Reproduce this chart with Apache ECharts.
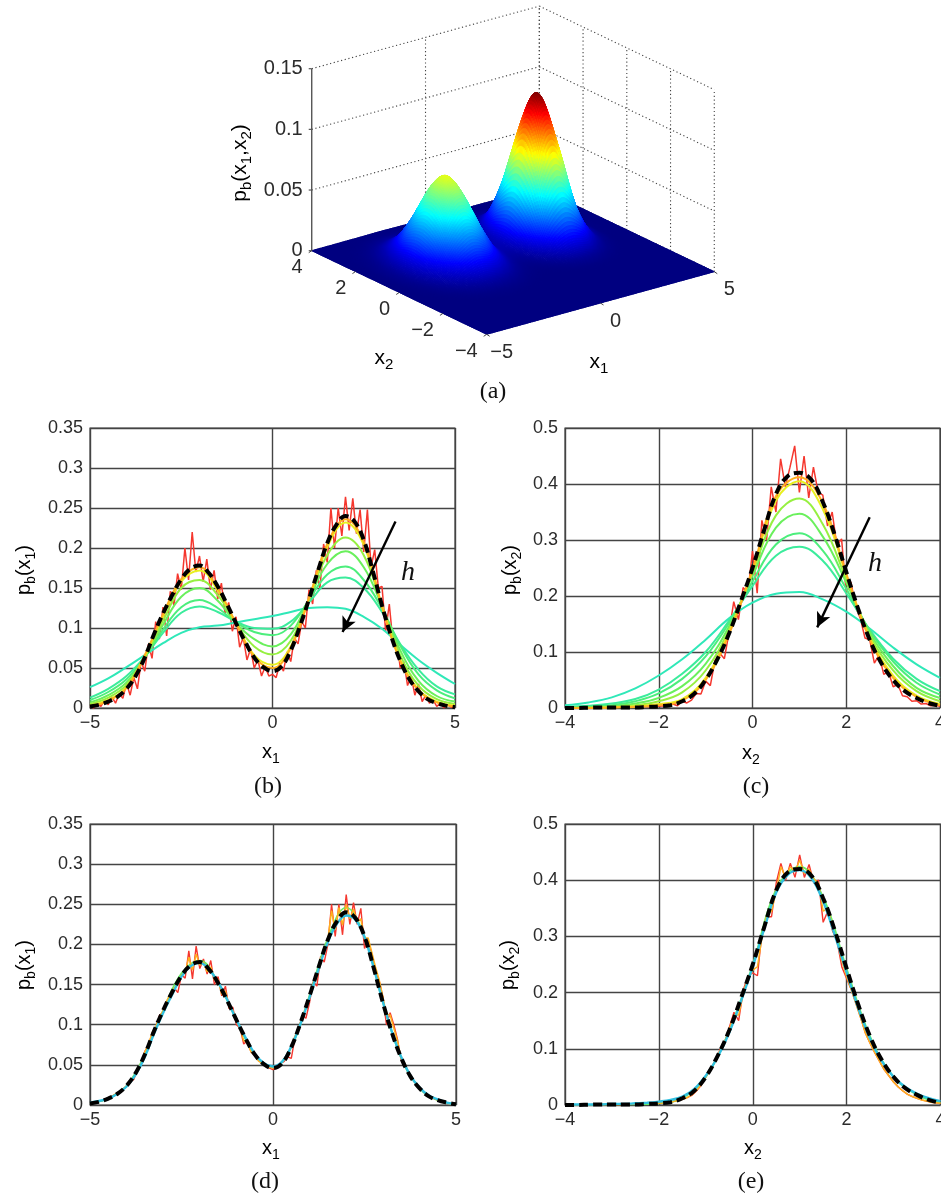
<!DOCTYPE html>
<html><head><meta charset="utf-8">
<style>html,body{margin:0;padding:0;background:#fff}#c{width:941px;height:1194px}</style>
<script src="https://cdn.jsdelivr.net/npm/echarts@6/dist/echarts.min.js"></script>
</head><body><div id="c"></div>
<script>
// ---------- data ----------
const x1Ticks=[-5,0,5], x2Ticks=[-4,-2,0,2,4];
const surfX1=[-5,-4.5,-4,-3.5,-3,-2.5,-2,-1.5,-1,-.5,0,.5,1,1.5,2,2.5,3,3.5,4,4.5,5];
const surfX2=[-4,-3.5,-3,-2.5,-2,-1.5,-1,-.5,0,.5,1,1.5,2,2.5,3,3.5,4];
// surface height in thousandths; one row per x2, one column per x1
const surfZ=[
[0,0,0,0,0,0,0,0,0,0,0,0,0,0,0,0,0,0,0,0,0],
[0,0,0,0,0,0,0,0,0,0,0,0,0,0,0,0,0,0,0,0,0],
[0,0,0,0,0,0,0,0,0,0,0,0,0,0,0,0,0,0,0,0,0],
[0,0,0,0,0,0,0,0,0,0,0,0,0,0,0,0,0,0,0,0,0],
[0,0,0,.1,.1,.2,.3,.2,.1,.1,0,0,0,.1,.1,.1,0,0,0,0,0],
[0,0,.1,.3,.8,1.3,1.5,1.3,.8,.3,.1,.1,.3,.7,.9,.7,.3,.1,0,0,0],
[0,.1,.4,1.3,3.1,5.1,6.1,5.1,3.1,1.3,.5,.6,1.9,4.1,5.3,4.1,1.9,.5,.1,0,0],
[0,.3,1.1,3.8,9,15,18,15,9,3.8,1.5,2.3,7.3,16,20,16,7.3,2,.3,0,0],
[.1,.5,2.4,8.1,19,32,39,32,19,8.1,3.4,6,20,43,55,43,20,5.5,.9,.1,0],
[.1,.9,3.9,13,31,51,62,51,31,13,5.5,11,35,76,98,76,35,10,1.6,.2,0],
[.15,1,4.5,15,36,60,72,60,36,15,6.5,13,43,93,120,93,43,12,2,.2,0],
[.1,.9,3.9,13,31,51,62,51,31,13,5.5,11,35,76,98,76,35,10,1.6,.2,0],
[.1,.5,2.4,8.1,19,32,39,32,19,8.1,3.4,6,20,43,55,43,20,5.5,.9,.1,0],
[0,.3,1.1,3.8,9,15,18,15,9,3.8,1.5,2.3,7.3,16,20,16,7.3,2,.3,0,0],
[0,.1,.4,1.3,3.1,5.1,6.1,5.1,3.1,1.3,.5,.6,1.9,4.1,5.3,4.1,1.9,.5,.1,0,0],
[0,0,.1,.3,.8,1.3,1.5,1.3,.8,.3,.1,.1,.3,.7,.9,.7,.3,.1,0,0,0],
[0,0,0,.1,.1,.2,.3,.2,.1,.1,0,0,0,.1,.1,.1,0,0,0,0,0]];

// x1 marginal, step .25 : true density
const trueX1=[.002,.004,.008,.014,.024,.040,.063,.092,.118,.141,.161,.174,.178,.169,.152,.130,.106,.083,.063,.051,.046,
 .052,.072,.102,.136,.172,.206,.229,.24,.233,.21,.171,.128,.09,.059,.036,.021,.011,.006,.003,.001];
const cyanX1=[.003,.005,.008,.014,.023,.038,.060,.089,.115,.138,.160,.173,.177,.169,.153,.131,.106,.084,.064,.052,.048,
 .054,.073,.101,.134,.170,.203,.226,.236,.231,.209,.171,.129,.091,.060,.037,.022,.012,.007,.003,.001];
// x1 marginal, step .5 : one curve per bandwidth, wide to narrow
const bH1=[.026,.037,.051,.066,.081,.094,.101,.103,.107,.111,.115,.120,.125,.126,.124,.114,.099,.079,.060,.044,.030];
const bH2=[.013,.024,.040,.064,.094,.119,.127,.120,.108,.100,.099,.108,.132,.157,.163,.150,.120,.080,.048,.027,.017];
const bH3=[.010,.020,.036,.063,.098,.126,.135,.125,.107,.095,.091,.103,.135,.167,.177,.160,.124,.078,.042,.022,.012];
const bH4=[.007,.016,.032,.063,.104,.139,.150,.134,.106,.086,.077,.092,.136,.180,.196,.176,.127,.072,.034,.015,.008];
const bH5=[.005,.013,.029,.064,.109,.150,.160,.141,.106,.077,.067,.084,.137,.191,.213,.191,.128,.066,.028,.011,.005];
const bH6=[.003,.010,.026,.065,.115,.158,.172,.147,.106,.066,.054,.077,.137,.201,.232,.204,.127,.060,.023,.008,.003];
const bH7=[.002,.009,.025,.066,.117,.161,.176,.149,.106,.064,.050,.075,.137,.205,.236,.208,.127,.059,.022,.007,.002];
// x1 marginal, step .1 : smallest bandwidth, panel (b)
const bRed=[.002,.000,.006,.002,.010,.004,.014,.006,.018,.012,
 .031,.016,.038,.024,.058,.046,.080,.062,.108,.086,
 .126,.090,.146,.128,.168,.148,.200,.160,.220,.170,
 .190,.158,.186,.148,.172,.136,.156,.118,.132,.096,
 .114,.076,.088,.060,.074,.050,.060,.040,.052,.040,
 .042,.038,.056,.046,.070,.058,.088,.080,.108,.100,
 .148,.130,.172,.150,.205,.182,.250,.200,.250,.215,
 .264,.222,.262,.218,.248,.195,.248,.176,.198,.150,
 .152,.096,.130,.082,.086,.050,.058,.028,.040,.016,
 .030,.008,.016,.006,.010,.002,.006,.000,.004,.001,.001];
// x1 marginal, panel (d)
const dRed=[.002,.003,.004,.005,.007,.009,.011,.013,.016,.020,
 .023,.029,.032,.046,.052,.067,.074,.090,.095,.112,
 .115,.128,.133,.146,.140,.162,.158,.192,.157,.198,
 .170,.182,.163,.180,.150,.160,.136,.148,.120,.122,
 .100,.096,.076,.080,.066,.062,.056,.052,.050,.046,
 .044,.046,.052,.054,.060,.058,.084,.094,.112,.108,
 .128,.154,.148,.185,.178,.200,.250,.210,.250,.212,
 .262,.225,.252,.225,.245,.195,.205,.188,.166,.155,
 .135,.100,.115,.100,.082,.056,.052,.040,.032,.027,
 .021,.017,.013,.010,.008,.006,.004,.003,.002,.001,.001];
const dOrange=[.002,.003,.004,.005,.007,.009,.011,.014,.016,.020,
 .024,.029,.034,.044,.052,.066,.076,.090,.098,.110,
 .118,.130,.138,.146,.150,.162,.165,.184,.168,.188,
 .174,.178,.166,.172,.156,.156,.138,.142,.122,.118,
 .104,.096,.080,.078,.066,.062,.055,.052,.049,.047,
 .046,.047,.052,.056,.062,.072,.086,.096,.110,.122,
 .134,.150,.160,.182,.190,.206,.242,.218,.246,.224,
 .250,.232,.244,.228,.232,.208,.208,.190,.172,.156,
 .135,.112,.112,.096,.080,.058,.052,.040,.033,.027,
 .021,.017,.013,.010,.008,.006,.004,.003,.002,.001,.001];
const dGreen=[.002,.008,.024,.063,.118,.164,.180,.152,.106,.063,.047,.072,.137,.208,.246,.210,.128,.059,.021,.006,.001];

// x2 marginal, step .25 : true density
const trueX2=[0,0,.0005,.001,.001,.001,.001,.002,.003,.005,.012,.025,.05,.087,.133,.19,.25,.318,.382,.414,.42,.408,.368,.31,.243,.178,.122,.08,.05,.03,.018,.009,.004];
const cyanX2=[.001,.001,.001,.001,.002,.002,.003,.004,.006,.009,.015,.028,.052,.085,.129,.185,.246,.315,.378,.410,.418,.404,.362,.302,.236,.172,.118,.078,.05,.032,.02,.012,.007];
// x2 marginal, step .5 : one curve per bandwidth, wide to narrow
const cH1=[.005,.010,.019,.035,.058,.087,.122,.160,.188,.204,.207,.194,.172,.142,.108,.078,.054];
const cH2=[.002,.004,.008,.016,.033,.061,.100,.156,.218,.272,.288,.263,.205,.140,.088,.052,.030];
const cH3=[.001,.002,.005,.012,.026,.052,.092,.152,.226,.292,.312,.281,.213,.138,.083,.045,.024];
const cH4=[0,.001,.003,.008,.018,.039,.079,.146,.236,.322,.347,.306,.224,.135,.075,.036,.018];
const cH5=[0,.001,.002,.005,.012,.028,.067,.140,.242,.344,.374,.328,.230,.130,.067,.030,.012];
const cH6=[0,0,.001,.003,.007,.016,.054,.135,.245,.37,.405,.355,.238,.125,.058,.022,.007];
const cH7=[0,0,.001,.002,.005,.013,.050,.132,.247,.378,.412,.366,.240,.123,.054,.020,.005];
// x2 marginal, step .1 : panel (c)
const cRed=[0,0,.001,0,.001,0,.001,.001,0,.001,
 .001,.001,.002,.001,.002,.002,.001,.003,.002,.003,
 .003,.004,.003,.007,.004,.012,.009,.014,.026,.025,
 .048,.040,.085,.098,.088,.135,.190,.158,.215,.205,
 .280,.205,.335,.300,.395,.350,.445,.395,.430,.468,
 .385,.450,.375,.430,.385,.380,.325,.350,.290,.302,
 .205,.225,.180,.160,.125,.122,.080,.095,.060,.065,
 .038,.042,.022,.020,.012,.013,.007,.008,.004,.005,.003];
// x2 marginal, panel (e)
const eRed=[0,0,0,0,0,0,.001,.001,.001,.001,
 .001,.001,.001,.002,.002,.002,.002,.003,.003,.003,
 .003,.004,.005,.006,.008,.010,.013,.017,.025,.035,
 .050,.062,.078,.098,.110,.138,.165,.150,.205,.230,
 .235,.230,.310,.335,.335,.395,.430,.400,.430,.405,
 .445,.405,.428,.395,.400,.325,.345,.310,.290,.245,
 .225,.205,.180,.155,.128,.110,.093,.078,.063,.052,
 .041,.032,.025,.019,.015,.012,.009,.007,.005,.004,.003];
const eOrange=[0,0,0,0,0,0,.001,.001,.001,.001,
 .001,.001,.001,.002,.002,.002,.002,.003,.003,.003,
 .003,.004,.005,.006,.008,.010,.013,.018,.026,.036,
 .050,.062,.080,.096,.112,.134,.160,.160,.200,.226,
 .240,.246,.300,.338,.345,.380,.424,.405,.424,.415,
 .436,.412,.420,.402,.395,.345,.350,.316,.292,.256,
 .228,.205,.180,.155,.128,.110,.093,.078,.063,.052,
 .041,.032,.025,.019,.015,.012,.009,.007,.005,.004,.003];
const eGreen=[0,0,.001,.001,.003,.012,.05,.133,.25,.384,.424,.37,.243,.122,.05,.018,.004];

// arrows, in data coordinates [x,y]
const arrowB=[[3.37,.233],[1.92,.095]], arrowC=[[2.5,.3405],[1.38,.144]];

// ---------- helpers ----------
const SANS='"Liberation Sans",Arial,sans-serif', SERIF='"Liberation Serif","Times New Roman",serif';
const INK='#2b2b2b';
const pairs=(a,lo,hi)=>a.map((v,i)=>[lo+(hi-lo)*i/(a.length-1),v]);
const line=(name,data,g,color,width,opt)=>Object.assign({name,type:'line',xAxisIndex:g,yAxisIndex:g,data,showSymbol:false,symbol:'none',
  animation:false,silent:true,lineStyle:{color,width},z:3},opt||{});
const smooth={smooth:.4};
const black=(a,lo,hi,g)=>line('true',pairs(a,lo,hi),g,'#000',4,{smooth:.4,z:6,lineStyle:{color:'#000',width:4,type:[9,5]}});
const arrow=(pts)=>({silent:true,symbol:['none','arrow'],symbolSize:[11,15],label:{show:false},animation:false,
  lineStyle:{color:'#000',width:2.4,type:'solid'},data:[[{coord:pts[0]},{coord:pts[1]}]]});
const minus=v=>String(v).replace('-','\u2212');

const grids=[{left:90,top:428,width:365,height:280},{left:565,top:428,width:375,height:280},
             {left:90,top:824,width:366,height:281},{left:565,top:824,width:375.5,height:281},
             {left:0,top:0,width:941,height:1194}];
grids.forEach(g=>{g.outerBoundsMode='none'});
grids.slice(0,4).forEach(g=>{g.show=true;g.borderColor='#444';g.borderWidth=1.2;g.backgroundColor='transparent'});
const xa=(g,lo,hi,step)=>({gridIndex:g,type:'value',min:lo,max:hi,interval:step,
  axisLine:{show:false},axisTick:{show:false},splitLine:{show:true,lineStyle:{color:'#444',width:1.4}},
  axisLabel:{color:INK,fontFamily:SANS,fontSize:18,margin:6,formatter:minus,showMinLabel:true,showMaxLabel:true}});
const ya=(g,hi,step)=>({gridIndex:g,type:'value',min:0,max:hi,interval:step,
  axisLine:{show:false},axisTick:{show:false},splitLine:{show:true,lineStyle:{color:'#444',width:1.4}},
  axisLabel:{color:INK,fontFamily:SANS,fontSize:18,margin:7,showMinLabel:true,showMaxLabel:true}});

// ---------- 3-D panel: orthographic projection onto page plane ----------
const O3=[513,261.2], U3=[22.76,-6.26], V3=[-21.87,-10.45], ZS=182/0.15;
const proj=(a,b,z)=>[O3[0]+U3[0]*a+V3[0]*b, O3[1]+U3[1]*a+V3[1]*b-ZS*z];
const zTicks=[0,.05,.1,.15], floorX1Ticks=[-5,0,5], floorX2Ticks=[-4,-2,0,2,4], wallX1=[0,5], wallX2=[4,2,0,-2,-4];
const ZMAX=.12;
const jet=t=>{const c=v=>Math.round(255*Math.max(0,Math.min(1,v)));
  return 'rgb('+c(1.5-Math.abs(4*t-3))+','+c(1.5-Math.abs(4*t-2))+','+c(1.5-Math.abs(4*t-1))+')';};
// smooth rendering of the read table: Catmull-Rom between table nodes
const SUB=10;
const cr=(p0,p1,p2,p3,t)=>.5*(2*p1+(p2-p0)*t+(2*p0-5*p1+4*p2-p3)*t*t+(3*p1-p0-3*p2+p3)*t*t*t);
const at=(i,j)=>surfZ[Math.max(0,Math.min(16,j))][Math.max(0,Math.min(20,i))];
const hi=(u,v)=>{const i=Math.floor(u),j=Math.floor(v),s=u-i,t=v-j,r=[];
  for(let k=-1;k<3;k++) r.push(cr(at(i-1,j+k),at(i,j+k),at(i+1,j+k),at(i+2,j+k),s));
  return Math.max(0,cr(r[0],r[1],r[2],r[3],t))/1000;};
const fx=[],nu=20*SUB,nv=16*SUB;
for(let j=0;j<=nv;j++){const row=[];for(let i=0;i<=nu;i++)row.push(hi(i/SUB,j/SUB));fx.push(row);}
const X1=i=>surfX1[0]+(surfX1[20]-surfX1[0])*i/nu, X2=j=>surfX2[0]+(surfX2[16]-surfX2[0])*j/nv;
const cells=[];
for(let j=0;j<nv;j++)for(let i=0;i<nu;i++)cells.push([i,j]);
cells.sort((p,q)=>(U3[1]*X1(p[0])+V3[1]*X2(p[1]))-(U3[1]*X1(q[0])+V3[1]*X2(q[1])));
const plane=(api,p)=>api.coord(p);
const surfaceItem=(params,api)=>{
  const i=api.value(0),j=api.value(1);
  const c=[[i,j],[i+1,j],[i+1,j+1],[i,j+1]];
  const pts=c.map(q=>plane(api,proj(X1(q[0]),X2(q[1]),fx[q[1]][q[0]])));
  const col=jet(c.reduce((s,q)=>s+fx[q[1]][q[0]],0)/4/ZMAX);
  return {type:'polygon',shape:{points:pts},style:{fill:col,stroke:col,lineWidth:1}};
};
// wall grid + axis + tick segments
const segs=[];
zTicks.forEach(z=>{segs.push([-5,4,z,5,4,z,0]);segs.push([5,4,z,5,-4,z,0]);});
wallX1.forEach(a=>segs.push([a,4,0,a,4,.15,0]));
wallX2.forEach(b=>segs.push([5,b,0,5,b,.15,0]));
const frameItem=(params,api)=>{
  const p=plane(api,proj(api.value(0),api.value(1),api.value(2))),q=plane(api,proj(api.value(3),api.value(4),api.value(5)));
  return {type:'line',shape:{x1:p[0],y1:p[1],x2:q[0],y2:q[1]},style:{stroke:'#444',lineWidth:1.1,lineDash:[1.2,2.6]}};
};
// solid z axis, floor ticks drawn over the surface
const solid=[[-5,4,0,-5,4,.15]];
const solidItem=(params,api)=>{
  const p=plane(api,proj(api.value(0),api.value(1),api.value(2))),q=plane(api,proj(api.value(3),api.value(4),api.value(5)));
  return {type:'line',shape:{x1:p[0],y1:p[1],x2:q[0],y2:q[1]},style:{stroke:'#555',lineWidth:1.4}};
};
const zTickItem=(params,api)=>{
  const p=plane(api,proj(-5,4,api.value(0)));
  return {type:'line',shape:{x1:p[0]-3,y1:p[1],x2:p[0],y2:p[1]},style:{stroke:'#555',lineWidth:1.2}};
};
const floorTickItem=(params,api)=>{
  const p=plane(api,proj(api.value(0),api.value(1),0));
  return {type:'line',shape:{x1:p[0],y1:p[1],x2:p[0]+api.value(2),y2:p[1]+api.value(3)},style:{stroke:'#444',lineWidth:1}};
};
const floorTicks=[...floorX2Ticks.map(b=>[-5,b,-3,2]),...floorX1Ticks.map(a=>[a,-4,3,2])];
const textStyle=(t,al)=>({text:t,fill:INK,font:'20px '+SANS,align:al,verticalAlign:'middle'});
// labels: [a,b,z,label,dx,dy,align]
const labels3=[
 ...zTicks.map(z=>[-5,4,z,String(z),-9,0,'right']),
 ...floorX2Ticks.map(b=>[-5,b,0,minus(b),-9,17,'right']),
 ...floorX1Ticks.map(a=>[a,-4,0,minus(a),15,18,'center'])];
const labelItem=(params,api)=>{
  const l=labels3[api.value(0)],p=plane(api,proj(l[0],l[1],l[2]));
  return {type:'text',x:p[0]+l[4],y:p[1]+l[5],style:textStyle(l[3],l[6])};
};
const custom=(name,data,renderItem,z)=>({name,type:'custom',xAxisIndex:4,yAxisIndex:4,coordinateSystem:'cartesian2d',data,renderItem,
  animation:false,silent:true,clip:false,progressive:0,z});

// ---------- page text ----------
const mkRich=(big,small)=>({a:{fontFamily:SANS,fontSize:big,lineHeight:big+8,color:INK,verticalAlign:'middle'},
            s:{fontFamily:SANS,fontSize:small,lineHeight:big+8,color:INK,verticalAlign:'bottom'}});
const rich=mkRich(20,14), rich3=mkRich(21,15);
const lab=(t,x,y,rot,r)=>({type:'text',x,y,rotation:rot?Math.PI/2:0,silent:true,z:20,
  style:{text:t,rich:r||rich,align:'center',verticalAlign:'middle'}});
const cap=(t,x,y)=>({type:'text',x,y,silent:true,z:20,style:{text:t,fill:'#111',font:'24px '+SERIF,align:'center',verticalAlign:'middle'}});
const hh=(x,y)=>({type:'text',x,y,silent:true,z:20,style:{text:'h',fill:'#111',font:'italic 28px '+SERIF,align:'center',verticalAlign:'middle'}});
const P1='{a|p}{s|b}{a|(x}{s|1}{a|)}',P2='{a|p}{s|b}{a|(x}{s|2}{a|)}',N1='{a|x}{s|1}',N2='{a|x}{s|2}';
const graphic=[
 lab('{a|p}{s|b}{a|(x}{s|1}{a|,x}{s|2}{a|)}',240,163,true,rich3),lab(N2,384,358,false,rich3),lab(N1,599,362,false,rich3),cap('(a)',493,392),
 lab(P1,24,570,true),lab(N1,271,752),cap('(b)',268,787),hh(408,573),
 lab(P2,510,570,true),lab(N2,751,753),cap('(c)',756,787),hh(875,564),
 lab(P1,24,965,true),lab(N1,271,1148),cap('(d)',265,1182),
 lab(P2,508,965,true),lab(N2,753,1148),cap('(e)',751,1182)];

// ---------- chart ----------
const series=[
 custom('walls',segs,frameItem,1),
 custom('surface',cells,surfaceItem,2),
 custom('zaxis',solid,solidItem,3),
 custom('zticks',zTicks.map(z=>[z]),zTickItem,3),
 custom('floorticks',floorTicks,floorTickItem,3),
 custom('labels',labels3.map((l,i)=>[i]),labelItem,4),
 // (b)
 line('red',pairs(bRed,-5,5),0,'#f5372e',1.5,{z:3}),
 line('h1',pairs(bH1,-5,5),0,'#2fe8b8',2,smooth),
 line('h2',pairs(bH2,-5,5),0,'#3bec9c',2,smooth),
 line('h3',pairs(bH3,-5,5),0,'#4cee7c',2,smooth),
 line('h4',pairs(bH4,-5,5),0,'#6af05c',2,smooth),
 line('h5',pairs(bH5,-5,5),0,'#96f040',2,smooth),
 line('h6',pairs(bH6,-5,5),0,'#e8f020',2,smooth),
 line('h7',pairs(bH7,-5,5),0,'#ffb020',2,smooth),
 Object.assign(black(trueX1,-5,5,0),{markLine:arrow(arrowB)}),
 // (c)
 line('red',pairs(cRed,-4,4),1,'#f5372e',1.5,{z:3}),
 line('h1',pairs(cH1,-4,4),1,'#2fe8b8',2,smooth),
 line('h2',pairs(cH2,-4,4),1,'#3bec9c',2,smooth),
 line('h3',pairs(cH3,-4,4),1,'#4cee7c',2,smooth),
 line('h4',pairs(cH4,-4,4),1,'#6af05c',2,smooth),
 line('h5',pairs(cH5,-4,4),1,'#96f040',2,smooth),
 line('h6',pairs(cH6,-4,4),1,'#e8f020',2,smooth),
 line('h7',pairs(cH7,-4,4),1,'#ffb020',2,smooth),
 Object.assign(black(trueX2,-4,4,1),{markLine:arrow(arrowC)}),
 // (d)
 line('red',pairs(dRed,-5,5),2,'#f5372e',1.4,{z:3}),
 line('orange',pairs(dOrange,-5,5),2,'#ffb020',1.5,{z:4}),
 line('green',pairs(dGreen,-5,5),2,'#66ee66',1.7,smooth),
 line('cyan',pairs(cyanX1,-5,5),2,'#30c0e0',2.4,{smooth:.4,z:5}),
 black(trueX1,-5,5,2),
 // (e)
 line('red',pairs(eRed,-4,4),3,'#f5372e',1.4,{z:3}),
 line('orange',pairs(eOrange,-4,4),3,'#ffb020',1.5,{z:4}),
 line('green',pairs(eGreen,-4,4),3,'#66ee66',1.7,smooth),
 line('cyan',pairs(cyanX2,-4,4),3,'#30c0e0',2.4,{smooth:.4,z:5}),
 black(trueX2,-4,4,3)
];
const chart=echarts.init(document.getElementById('c'),null,{renderer:'canvas'});
chart.setOption({
 animation:false,backgroundColor:'#fff',
 grid:grids,
 xAxis:[xa(0,x1Ticks[0],x1Ticks[2],5),xa(1,x2Ticks[0],x2Ticks[4],2),xa(2,x1Ticks[0],x1Ticks[2],5),xa(3,x2Ticks[0],x2Ticks[4],2),
  {gridIndex:4,type:'value',min:0,max:941,show:false}],
 yAxis:[ya(0,.35,.05),ya(1,.5,.1),ya(2,.35,.05),ya(3,.5,.1),
  {gridIndex:4,type:'value',min:0,max:1194,inverse:true,show:false}],
 graphic,series
});
</script></body></html>
